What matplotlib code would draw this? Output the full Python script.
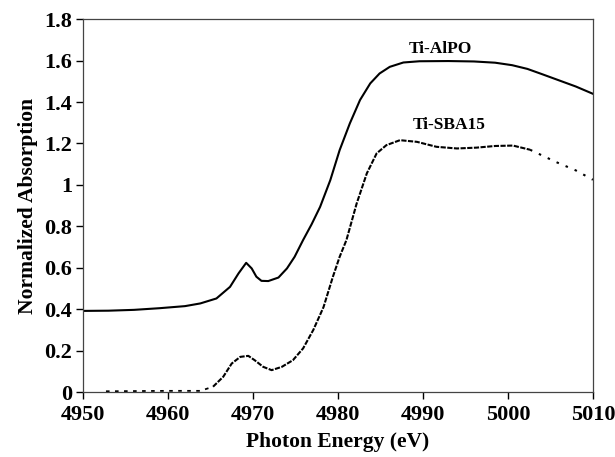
import numpy as np
import matplotlib
matplotlib.use("Agg")
import matplotlib.pyplot as plt

# Ti-AlPO spectrum
alpo_e = [4950, 4953, 4956, 4959, 4962, 4963.8, 4965.7, 4967.3, 4968.3, 4969.2,
          4969.85, 4970.4, 4971.0, 4971.8, 4973.0, 4974.0, 4974.9, 4975.9, 4976.9,
          4977.9, 4979.1, 4980.2, 4981.4, 4982.6, 4983.8, 4984.9, 4986.1, 4987.7,
          4989.6, 4993.0, 4996.0, 4998.5, 5000.5, 5002.3, 5004.0, 5006.0, 5008.0, 5010]
alpo_y = [0.392, 0.393, 0.397, 0.405, 0.415, 0.428, 0.452, 0.508, 0.573, 0.624,
          0.597, 0.557, 0.537, 0.536, 0.553, 0.597, 0.653, 0.734, 0.81,
          0.894, 1.023, 1.168, 1.297, 1.41, 1.49, 1.538, 1.57, 1.591,
          1.597, 1.598, 1.596, 1.59, 1.578, 1.56, 1.535, 1.505, 1.475, 1.44]

# Ti-SBA15 spectrum
sba_e = [4952.7, 4956.0, 4960.0, 4963.8, 4965.3, 4966.5, 4967.5, 4968.5, 4969.45,
         4970.2, 4971.2, 4972.2, 4973.4, 4974.7, 4975.9, 4977.1, 4978.3, 4979.4,
         4980.2, 4981.0, 4982.2, 4983.4, 4984.55, 4985.7, 4987.3, 4989.3, 4991.6,
         4994.0, 4996.3, 4998.5, 5000.6, 5002.6, 5005.7, 5008.0, 5010]
sba_y = [0.004, 0.005, 0.006, 0.006, 0.026, 0.074, 0.138, 0.17, 0.175,
         0.154, 0.122, 0.106, 0.122, 0.154, 0.211, 0.30, 0.41, 0.556,
         0.653, 0.734, 0.91, 1.056, 1.152, 1.192, 1.216, 1.208, 1.184,
         1.176, 1.18, 1.188, 1.19, 1.17, 1.11, 1.07, 1.025]

xticks = [4950, 4960, 4970, 4980, 4990, 5000, 5010]
yticks = [0, 0.2, 0.4, 0.6, 0.8, 1.0, 1.2, 1.4, 1.6, 1.8]
ylabels = ["0", "0.2", "0.4", "0.6", "0.8", "1", "1.2", "1.4", "1.6", "1.8"]

plt.rcParams['font.family'] = 'Liberation Serif'
plt.rcParams['font.weight'] = 'bold'

fig = plt.figure(figsize=(6.15, 4.57), dpi=100)
ax = fig.add_axes([0.135, 0.142, 0.829, 0.816])

ax.plot(alpo_e, alpo_y, color='black', lw=1.5)

sba_e = np.array(sba_e)
sba_y = np.array(sba_y)
head = sba_e <= 4965.3
mid = (sba_e >= 4965.3) & (sba_e <= 5002.6)
tail = sba_e >= 5002.6
ax.plot(sba_e[head], sba_y[head], color='black', lw=1.3, ls=(0, (2, 3)))
ax.plot(sba_e[mid], sba_y[mid], color='black', lw=1.5, ls=(0, (2.5, 0.7)))
ax.plot(sba_e[tail], sba_y[tail], color='black', lw=1.5, ls=(0, (1.2, 3.5)))

ax.text(4992.1, 1.654, "Ti-AlPO", ha='center', va='center', fontsize=12.5, fontweight='bold')
ax.text(4993.1, 1.289, "Ti-SBA15", ha='center', va='center', fontsize=12.5, fontweight='bold')

ax.set_xlim(4950, 5010)
ax.set_ylim(0, 1.8)
ax.set_xticks(xticks)
ax.set_yticks(yticks)
ax.set_yticklabels(ylabels)
ax.tick_params(direction='out', length=5, width=1, labelsize=16, pad=3)
ax.tick_params(axis='x', pad=4)
for s in ax.spines.values():
    s.set_linewidth(0.9)
    s.set_color('#444444')

ax.set_xlabel("Photon Energy (eV)", fontsize=15.5, fontweight='bold', labelpad=5)
ax.set_ylabel("Normalized Absorption", fontsize=15.5, fontweight='bold', labelpad=4)

fig.savefig("out.png", dpi=100)
